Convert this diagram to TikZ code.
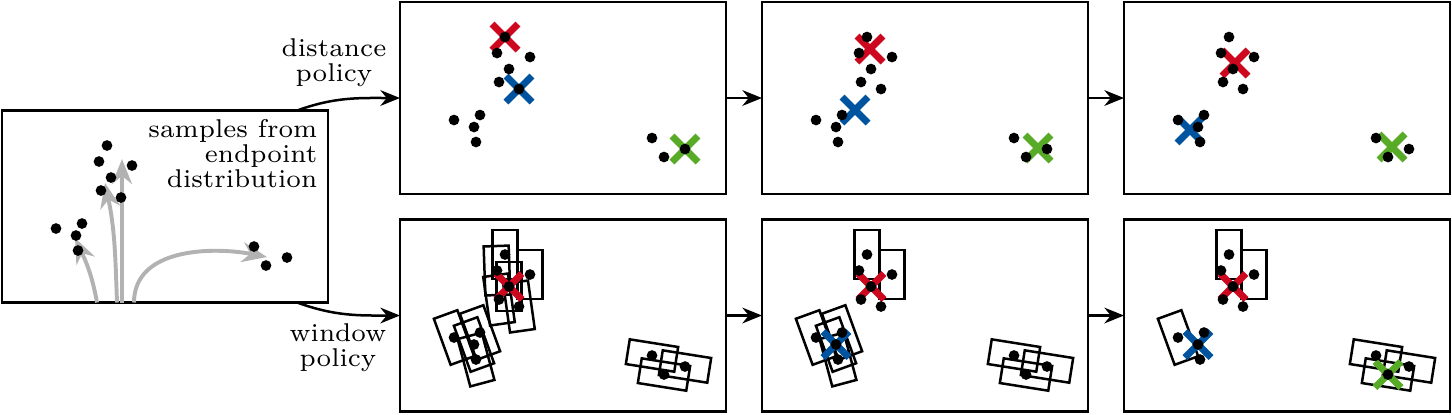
\documentclass[tikz,border=0pt]{standalone}
\usetikzlibrary{arrows.meta,positioning}

\definecolor{clusterred}{RGB}{204,7,30}
\definecolor{clusterblue}{RGB}{0,84,159}
\definecolor{clustergreen}{RGB}{87,171,39}

% the same endpoint samples sit in every panel
\newcommand{\samplecoords}{%
  \foreach \n/\px/\py in {1/105/35,2/97/51,3/130/55,4/109/67,5/99/80,6/119/87,
      7/54/118,8/80/113,9/74/125,10/76/140,11/252/136,12/264/155,13/285/147}
    \coordinate (s\n) at (\px,-\py);}
\newcommand{\sampledots}{%
  \foreach \n in {1,...,13} \fill (s\n) circle (1.5pt);}

\begin{document}
\begin{tikzpicture}[x=0.28pt,y=0.28pt,
  panel/.style={draw,line width=0.7pt,minimum width=91.28pt,minimum height=53.76pt,
    inner sep=0pt,outer sep=0pt},
  flow/.style={-{Stealth[length=5.5pt,width=4.4pt]},line width=0.7pt},
  draft/.style={-{Stealth[length=7pt,width=5.6pt]},line width=1.1pt,black!30},
  lbl/.style={font=\fontsize{7.2}{7}\selectfont,inner sep=0pt},
  window/.pic={\draw[line width=0.7pt] (-12.5,-24.5) rectangle (12.5,24.5);},
  centroid/.pic={\draw[line width=1.9pt] (-13,-13) -- (13,13) (-13,13) -- (13,-13);}]
\useasboundingbox (0,0) rectangle (1452,-414);

% panels
\node[panel] (src) at (165,-206.5) {};
\node[panel] (dist1) at (563,-98) {};
\node[panel,right=10.08pt of dist1] (dist2) {};
\node[panel,right=10.08pt of dist2] (dist3) {};
\node[panel,below=7.14pt of dist1] (win1) {};
\node[panel,right=10.08pt of win1] (win2) {};
\node[panel,right=10.08pt of win2] (win3) {};

% connectors
\draw[flow] (src.36) to[out=20,in=180] (dist1.west);
\draw[flow] (src.-36) to[out=-20,in=180] (win1.west);
\draw[flow] (dist1) -- (dist2);
\draw[flow] (dist2) -- (dist3);
\draw[flow] (win1) -- (win2);
\draw[flow] (win2) -- (win3);
\node[lbl,align=center] (distlbl) at (334,-63) {distance\\policy};
\node[lbl,align=center] (winlbl) at (338,-348) {window\\policy};

% endpoint distribution
\begin{scope}[shift={(src.north west)}]
  \samplecoords
  \coordinate (b1) at (95,-192);  \coordinate (t1) at (73,-127.5);
  \coordinate (b2) at (115,-192); \coordinate (t2) at (103,-72.5);
  \coordinate (b3) at (120,-192); \coordinate (t3) at (120,-48.5);
  \coordinate (b4) at (132,-192); \coordinate (t4) at (265,-146.5);
  \draw[draft] (b1) to[out=100,in=-65] (t1);
  \draw[draft] (b2) to[out=92,in=-78] (t2);
  \draw[draft] (b3) -- (t3);
  \draw[draft] (b4) to[out=90,in=169] (t4);
  \sampledots
  \node[lbl,align=right,anchor=east] (srclbl) at (316,-43) {samples from\\endpoint\\distribution};
\end{scope}

% distance policy
\begin{scope}[shift={(dist1.north west)}]
  \samplecoords
  \pic[clusterred] at (s1) {centroid};
  \pic[clusterblue] at (s6) {centroid};
  \pic[clustergreen] at (s13) {centroid};
  \sampledots
\end{scope}
\begin{scope}[shift={(dist2.north west)}]
  \samplecoords
  \pic[clusterred] at (108,-47) {centroid};
  \pic[clusterblue] at (93,-108) {centroid};
  \pic[clustergreen] at (276,-146) {centroid};
  \sampledots
\end{scope}
\begin{scope}[shift={(dist3.north west)}]
  \samplecoords
  \pic[clusterred] at (111,-61) {centroid};
  \pic[clusterblue] at (66,-128) {centroid};
  \pic[clustergreen] at (268,-145) {centroid};
  \sampledots
\end{scope}

% window policy
\begin{scope}[shift={(win1.north west)}]
  \samplecoords
  \foreach \n/\a in {1/0,2/2,3/0,4/0,5/8,6/8,7/20,8/20,9/20,10/15,11/81,12/81,13/81}
    \pic[rotate=\a] at (s\n) {window};
  \pic[clusterred] at (s4) {centroid};
  \sampledots
\end{scope}
\begin{scope}[shift={(win2.north west)}]
  \samplecoords
  \foreach \n/\a in {1/0,3/0,7/20,8/20,9/20,10/15,11/81,12/81,13/81}
    \pic[rotate=\a] at (s\n) {window};
  \pic[clusterred] at (s4) {centroid};
  \pic[clusterblue] at (s9) {centroid};
  \sampledots
\end{scope}
\begin{scope}[shift={(win3.north west)}]
  \samplecoords
  \foreach \n/\a in {1/0,3/0,7/20,11/81,12/81,13/81}
    \pic[rotate=\a] at (s\n) {window};
  \pic[clusterred] at (s4) {centroid};
  \pic[clusterblue] at (s9) {centroid};
  \pic[clustergreen] at (s12) {centroid};
  \sampledots
\end{scope}
\end{tikzpicture}
\end{document}
